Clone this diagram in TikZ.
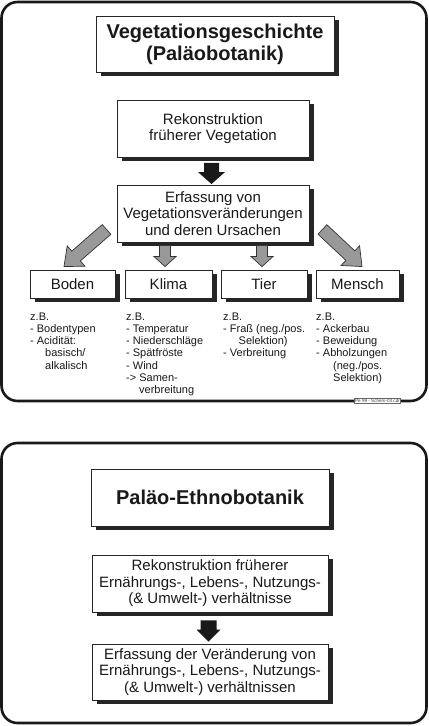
\documentclass[tikz,border=0pt]{standalone}
\usepackage{fontspec}
\setmainfont{Liberation Sans}
\usetikzlibrary{calc,shadows}
\tikzset{
  frame/.style={draw=black!90, line width=2.6bp, rounded corners=16bp},
  box/.style={draw=black!85, line width=0.9bp, fill=white, inner sep=0pt, align=center, text=black!90,
    drop shadow={shadow xshift=4.5bp, shadow yshift=-4bp, fill=black!85, opacity=1}},
  titlefont/.style={font=\fontsize{20bp}{22bp}\selectfont\bfseries},
  midfont/.style={font=\fontsize{15bp}{16.5bp}\selectfont},
  catfont/.style={font=\fontsize{15bp}{17bp}\selectfont},
  smalltext/.style={font=\fontsize{11bp}{12.2bp}\selectfont, align=left, anchor=north west, inner sep=0pt, text=black!90},
  blackarrow/.style={fill=black!90},
  grayarrow/.style={fill=black!40, draw=black!80, line width=0.7bp, line join=miter},
  reflabel/.style={draw=black!60, fill=white, line width=0.4bp, inner sep=0.7bp, text=black!75,
    font=\fontsize{4.6bp}{5bp}\selectfont},
}
% #1 tail coordinate, #2 tip coordinate, #3 half shaft width, #4 half head width, #5 head length, #6 style
\newcommand\fatarrow[6]{%
  \coordinate (fa-h) at ($(#2)!#5!(#1)$);
  \path[#6] ($(#1)!#3!90:(#2)$) -- ($(fa-h)!#3!-90:(#1)$) -- ($(fa-h)!#4!-90:(#1)$) -- (#2)
    -- ($(fa-h)!#4!90:(#1)$) -- ($(fa-h)!#3!90:(#1)$) -- ($(#1)!#3!-90:(#2)$) -- cycle;
}
\begin{document}
\begin{tikzpicture}[x=1bp,y=-1bp]
\useasboundingbox (0,0) rectangle (428,726);
\fill[white] (0,0) rectangle (428,726);

% frames
\draw[frame] (1.5,2) rectangle (426.5,401);
\draw[frame] (1.5,443) rectangle (426.5,723);

% ---------- upper part ----------
\node[box, titlefont, minimum width=238bp, minimum height=56bp] (t1) at (215,44)
  {Vegetationsgeschichte\\(Paläobotanik)};
\node[box, midfont, minimum width=192bp, minimum height=57bp] (r1) at (213,128.5)
  {Rekonstruktion\\früherer Vegetation};
\node[box, midfont, minimum width=192bp, minimum height=57bp] (e1) at (213,213.5)
  {Erfassung von\\Vegetationsveränderungen\\und deren Ursachen};

\node[box, catfont, minimum width=85bp, minimum height=28bp] (boden) at (72.5,284) {Boden};
\node[box, catfont, minimum width=87bp, minimum height=28bp] (klima) at (168.5,284) {Klima};
\node[box, catfont, minimum width=86bp, minimum height=28bp] (tier) at (264,284) {Tier};
\node[box, catfont, minimum width=83bp, minimum height=28bp] (mensch) at (357.5,284) {Mensch};

% black arrow r1 -> e1
\coordinate (a1s) at ($(r1.south)+(-1.5,5.5)$);
\coordinate (a1e) at ($(e1.north)+(-1.5,-0.5)$);
\fatarrow{a1s}{a1e}{7.5bp}{13.5bp}{12bp}{blackarrow}

% gray arrows
\coordinate (gbs) at ($(e1.south west)+(-10,-13)$);
\coordinate (gbe) at ($(boden.north)+(-8.5,-3)$);
\fatarrow{gbs}{gbe}{6.5bp}{13.5bp}{16bp}{grayarrow}

\coordinate (gks) at ($(klima.north)+(-3.5,-24)$);
\coordinate (gke) at ($(klima.north)+(-3.5,-3)$);
\fatarrow{gks}{gke}{5.5bp}{11bp}{10bp}{grayarrow}

\coordinate (gts) at ($(tier.north)+(-2,-24)$);
\coordinate (gte) at ($(tier.north)+(-2,-3)$);
\fatarrow{gts}{gte}{5.5bp}{11bp}{10bp}{grayarrow}

\coordinate (gms) at ($(e1.south east)+(13,-13)$);
\coordinate (gme) at ($(mensch.north)+(4.5,-3)$);
\fatarrow{gms}{gme}{6.5bp}{13.5bp}{16bp}{grayarrow}

% lists
\node[smalltext] (lboden) at (30,312.5)
  {z.B.\\- Bodentypen\\- Acidität:\\\hspace*{15bp}basisch/\\\hspace*{15bp}alkalisch};
\node[smalltext] (lklima) at (126,312.5)
  {z.B.\\- Temperatur\\- Niederschläge\\- Spätfröste\\- Wind\\-> Samen-\\\hspace*{13bp}verbreitung};
\node[smalltext] (ltier) at (223,312.5)
  {z.B.\\- Fraß (neg./pos.\\\hspace*{15.5bp}Selektion)\\- Verbreitung};
\node[smalltext] (lmensch) at (316,312.5)
  {z.B.\\- Ackerbau\\- Beweidung\\- Abholzungen\\\hspace*{17bp}(neg./pos.\\\hspace*{17bp}Selektion)};

\node[reflabel] (ref) at (377.5,400.5) {Pe 99 - Schem-03.cdr};

% ---------- lower part ----------
\node[box, titlefont, minimum width=238bp, minimum height=57bp] (t2) at (210,497.5)
  {Paläo-Ethnobotanik};
\node[box, midfont, minimum width=236bp, minimum height=57bp] (r2) at (210,583.5)
  {Rekonstruktion früherer\\Ernährungs-, Lebens-, Nutzungs-\\(\& Umwelt-) verhältnisse};
\node[box, midfont, minimum width=236bp, minimum height=56bp] (e2) at (210,672)
  {Erfassung der Veränderung von\\Ernährungs-, Lebens-, Nutzungs-\\(\& Umwelt-) verhältnissen};

\coordinate (a2s) at ($(r2.south)+(-1.5,8)$);
\coordinate (a2e) at ($(e2.north)+(-1.5,-2)$);
\fatarrow{a2s}{a2e}{8bp}{12bp}{12bp}{blackarrow}
\end{tikzpicture}
\end{document}
